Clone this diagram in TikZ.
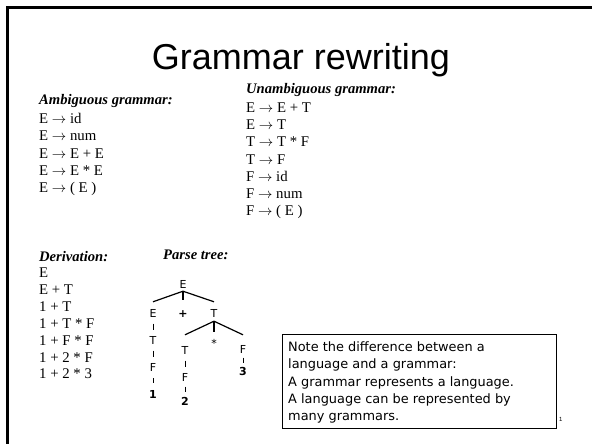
\documentclass[tikz,border=0pt]{standalone}
\usepackage{fontspec}
\setmainfont{Liberation Serif}
\newfontfamily\titlefont{Liberation Sans}
\newfontfamily\tahfont{DejaVu Sans}
\usetikzlibrary{calc}
\newcommand{\ar}{\ensuremath{\rightarrow}}
\begin{document}
\begin{tikzpicture}[x=1pt,y=-1pt,
  txt/.style={anchor=base west, inner sep=0pt, font=\fontsize{14.8}{17}\selectfont},
  hd/.style={anchor=base west, inner sep=0pt, font=\fontsize{14.6}{17}\selectfont\bfseries\itshape},
  tn/.style={inner sep=0pt, text height=8pt, text depth=0pt, font=\tahfont\fontsize{11}{13}\selectfont},
  tb/.style={tn, font=\tahfont\bfseries\fontsize{11}{13}\selectfont},
  br/.style={line width=1.2pt},
  stub/.style={line width=1pt},
  nt/.style={anchor=base west, inner sep=0pt, font=\tahfont\fontsize{12.9}{15}\selectfont}]
\useasboundingbox (0,0) rectangle (592,444);
\fill[white] (0,0) rectangle (592,444);
% frame
\draw[line width=3pt] (7.5,444) -- (7.5,7.5) -- (592,7.5);
% title
\node[anchor=base, inner sep=0pt, font=\titlefont\fontsize{36}{40}\selectfont] (title) at (301,70) {Grammar rewriting};
% ambiguous grammar
\node[hd] (amb) at (39,105) {Ambiguous grammar:};
\node[txt] (a1) at (39,123) {E \ar{} id};
\node[txt] (a2) at (39,140.5) {E \ar{} num};
\node[txt] (a3) at (39,158) {E \ar{} E + E};
\node[txt] (a4) at (39,175) {E \ar{} E * E};
\node[txt] (a5) at (39,192) {E \ar{} ( E )};
% unambiguous grammar
\node[hd] (unamb) at (246,93.5) {Unambiguous grammar:};
\node[txt] (u1) at (246,112) {E \ar{} E + T};
\node[txt] (u2) at (246,129.5) {E \ar{} T};
\node[txt] (u3) at (246,146.5) {T \ar{} T * F};
\node[txt] (u4) at (246,164) {T \ar{} F};
\node[txt] (u5) at (246,181) {F \ar{} id};
\node[txt] (u6) at (246,198) {F \ar{} num};
\node[txt] (u7) at (246,215) {F \ar{} ( E )};
% derivation
\node[hd] (der) at (39,261) {Derivation:};
\node[txt] (d1) at (39,277) {E};
\node[txt] (d2) at (39,294) {E + T};
\node[txt] (d3) at (39,311) {1 + T};
\node[txt] (d4) at (39,328) {1 + T * F};
\node[txt] (d5) at (39,345) {1 + F * F};
\node[txt] (d6) at (39,362) {1 + 2 * F};
\node[txt] (d7) at (39,378.5) {1 + 2 * 3};
% parse tree
\node[hd] (pt) at (163,259) {Parse tree:};
\node[tn] (r) at (183,284) {E};
\node[tn] (e2) at (153,313) {E};
\node[tb] (plus) at (183,313) {+};
\node[tn] (t2) at (214,313) {T};
\node[tn] (t3) at (153,340) {T};
\node[tn] (f3) at (153,367) {F};
\node[tb] (n1) at (153,394) {1};
\node[tn] (star) at (214,343) {*};
\node[tn] (tl) at (185,350) {T};
\node[tn] (fl) at (185,377) {F};
\node[tb] (n2) at (185,401) {2};
\node[tn] (fr) at (243,349) {F};
\node[tb] (n3) at (243,371) {3};
% branches
\coordinate (ra) at ([yshift=-3pt]r.south);
\draw[br] (ra) -- ([yshift=7pt]e2.north);
\draw[br] (ra) -- ([yshift=7pt]t2.north);
\draw[br] (ra) -- ([yshift=9pt]plus.north);
\coordinate (ta) at ([yshift=-4pt]t2.south);
\draw[br] (ta) -- ([yshift=11pt]tl.north);
\draw[br] (ta) -- ([yshift=10pt]fr.north);
\draw[br] (ta) -- ([yshift=7pt]star.north);
% stubs
\draw[stub] ($(e2)!.5!(t3)+(0,-3)$) -- ($(e2)!.5!(t3)+(0,3)$);
\draw[stub] ($(t3)!.5!(f3)+(0,-3)$) -- ($(t3)!.5!(f3)+(0,3)$);
\draw[stub] ($(f3)!.5!(n1)+(0,-2.5)$) -- ($(f3)!.5!(n1)+(0,2.5)$);
\draw[stub] ($(tl)!.5!(fl)+(0,-3)$) -- ($(tl)!.5!(fl)+(0,3)$);
\draw[stub] ($(fl)!.5!(n2)+(0,-2.5)$) -- ($(fl)!.5!(n2)+(0,2.5)$);
\draw[stub] ($(fr)!.5!(n3)+(0,-2.5)$) -- ($(fr)!.5!(n3)+(0,2.5)$);
% note box
\node[draw, line width=0.9pt, anchor=north west, minimum width=274pt, minimum height=94pt, inner sep=0pt] (box) at (282,334) {};
\node[nt] (l1) at (288,351) {Note the difference between a};
\node[nt] (l2) at (288,368.5) {language and a grammar:};
\node[nt] (l3) at (288,386) {A grammar represents a language.};
\node[nt] (l4) at (288,403) {A language can be represented by};
\node[nt] (l5) at (288,420) {many grammars.};
\node[anchor=base west, inner sep=0pt, font=\titlefont\fontsize{6}{7}\selectfont] (pg) at (559,421) {1};
\end{tikzpicture}
\end{document}
